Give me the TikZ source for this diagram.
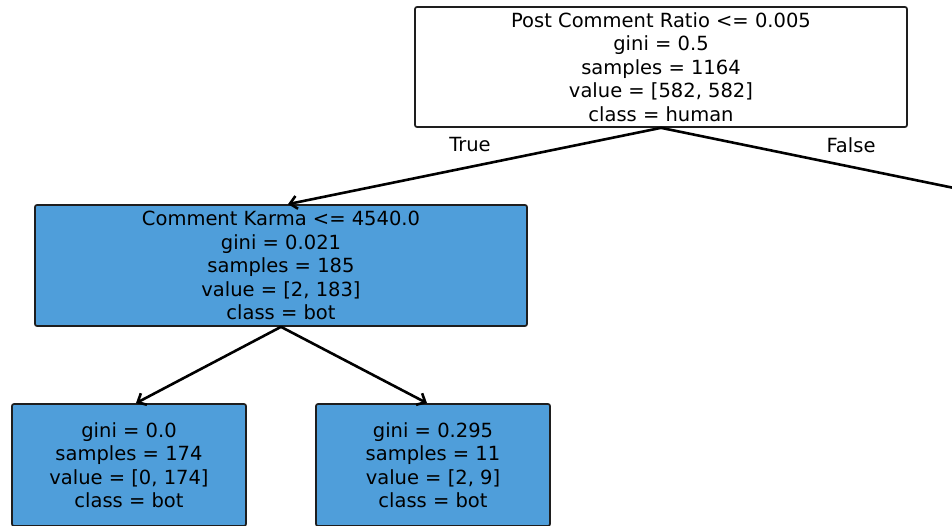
\documentclass[tikz,border=0pt]{standalone}
\usepackage{fontspec}
\setmainfont{DejaVu Sans}
\usetikzlibrary{arrows.meta}
\definecolor{botblue}{RGB}{79,158,218}
\definecolor{edgegray}{RGB}{30,30,30}
\tikzset{
  treebox/.style={draw=edgegray, line width=1.7pt, rounded corners=2pt,
    align=center, inner sep=0pt, font=\fontsize{19.5}{23.5}\selectfont},
  innerbox/.style={treebox, minimum width=492pt, minimum height=121pt},
  leafbox/.style={treebox, fill=botblue, minimum width=234pt, minimum height=122pt},
  branch/.style={line width=2.6pt, -{Straight Barb[length=7pt,width=13pt,line width=2.6pt]}},
  edgelabel/.style={font=\fontsize{19.5}{23.5}\selectfont}
}
\begin{document}
\begin{tikzpicture}[x=1pt,y=-1pt]
\useasboundingbox (0,0) rectangle (952,525);
\clip (0,0) rectangle (952,525);
\node[innerbox, fill=white, minimum height=120pt] (root) at (661,67)
  {Post Comment Ratio <= 0.005\\gini = 0.5\\samples = 1164\\value = [582, 582]\\class = human};
\node[innerbox, fill=botblue] (karma) at (281,265.5)
  {Comment Karma <= 4540.0\\gini = 0.021\\samples = 185\\value = [2, 183]\\class = bot};
\node[leafbox] (leafa) at (129,465)
  {gini = 0.0\\samples = 174\\value = [0, 174]\\class = bot};
\node[leafbox] (leafb) at (433,465)
  {gini = 0.295\\samples = 11\\value = [2, 9]\\class = bot};
\coordinate (falseend) at (1037,205);
\draw[branch] (root.south) -- ([xshift=7pt]karma.north);
\draw[branch] (root.south) -- (falseend);
\draw[branch] (karma.south) -- ([xshift=7pt]leafa.north);
\draw[branch] (karma.south) -- ([xshift=-6pt]leafb.north);
\node[edgelabel] (truelabel) at (470,145) {True};
\node[edgelabel] (falselabel) at (851,145) {False};
\end{tikzpicture}
\end{document}
